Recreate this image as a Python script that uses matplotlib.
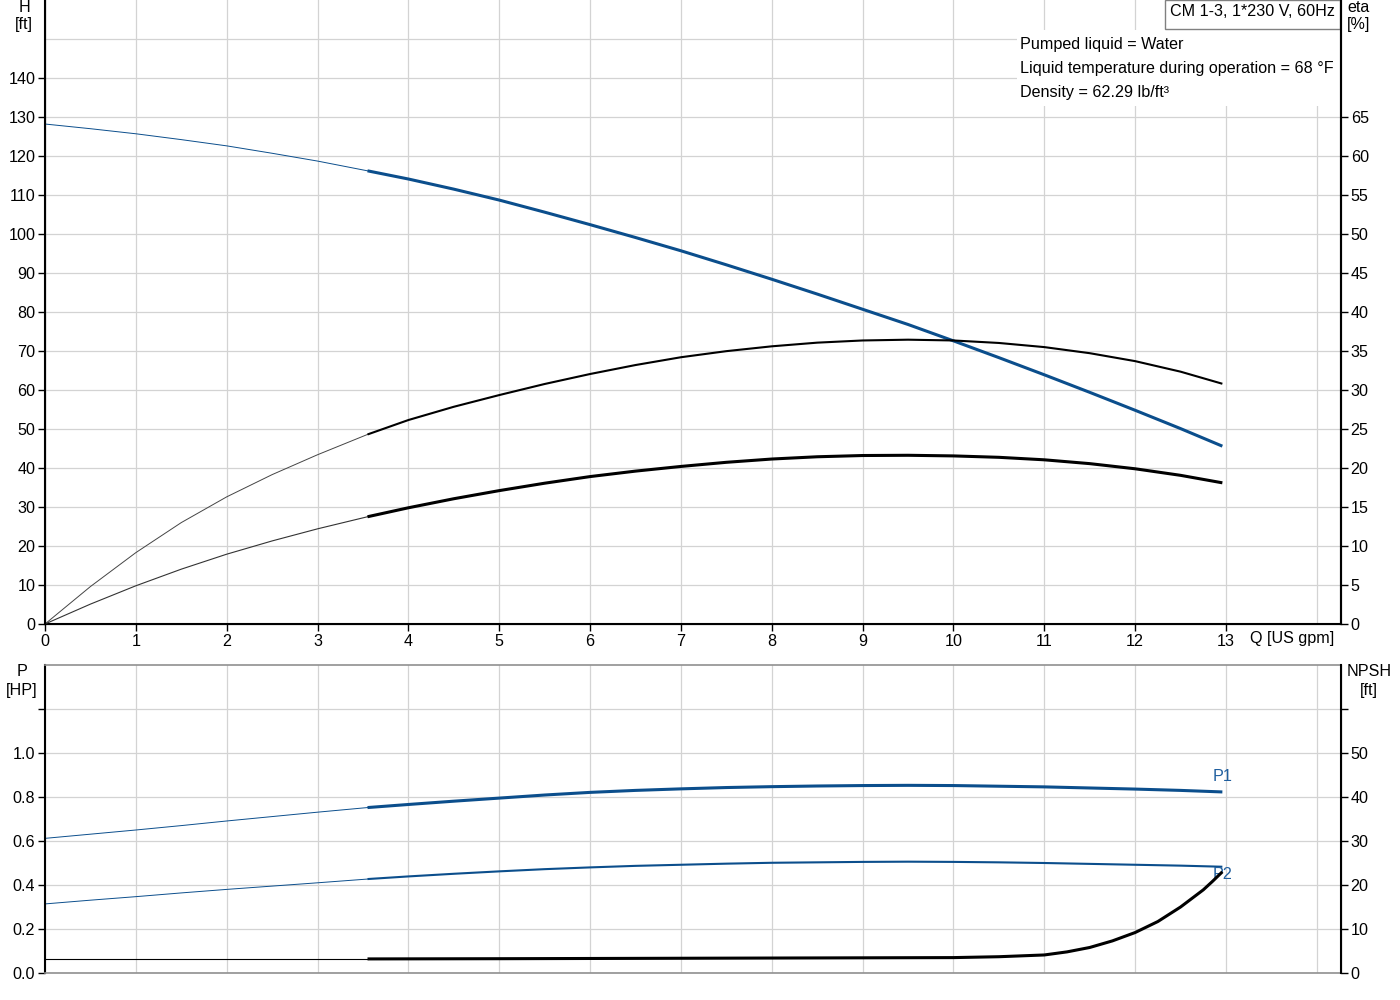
import matplotlib
matplotlib.use("Agg")
import matplotlib.pyplot as plt
from matplotlib.patches import Rectangle
from matplotlib.ticker import FixedLocator

plt.rcParams['font.family'] = ['Liberation Sans', 'DejaVu Sans']

# ---------------- data ----------------
q = [0, 0.5, 1, 1.5, 2, 2.5, 3, 3.55, 4, 4.5, 5, 5.5, 6, 6.5, 7, 7.5, 8, 8.5,
     9, 9.5, 10, 10.5, 11, 11.5, 12, 12.5, 12.96]
head_ft = [128.2, 127.0, 125.7, 124.2, 122.6, 120.7, 118.7, 116.2, 114.1, 111.5,
           108.7, 105.6, 102.4, 99.1, 95.7, 92.1, 88.4, 84.6, 80.7, 76.8, 72.6,
           68.3, 63.9, 59.4, 54.8, 50.1, 45.6]
eta_pump = [0, 4.8, 9.15, 13.0, 16.3, 19.15, 21.7, 24.3, 26.15, 27.85, 29.35,
            30.77, 32.05, 33.2, 34.2, 34.98, 35.6, 36.07, 36.35, 36.45, 36.35,
            36.03, 35.5, 34.72, 33.7, 32.35, 30.8]
eta_total = [0, 2.55, 4.9, 7.03, 8.95, 10.65, 12.2, 13.75, 14.9, 16.06, 17.1,
             18.05, 18.9, 19.6, 20.2, 20.73, 21.15, 21.44, 21.6, 21.63, 21.55,
             21.37, 21.05, 20.56, 19.9, 19.06, 18.1]
p1_hp = [0.612, 0.631, 0.650, 0.670, 0.691, 0.711, 0.731, 0.752, 0.766, 0.781,
         0.795, 0.809, 0.821, 0.830, 0.837, 0.843, 0.847, 0.850, 0.852, 0.853,
         0.852, 0.849, 0.846, 0.841, 0.836, 0.830, 0.823]
p2_hp = [0.314, 0.331, 0.347, 0.364, 0.380, 0.395, 0.410, 0.427, 0.439, 0.451,
         0.462, 0.472, 0.480, 0.487, 0.492, 0.497, 0.501, 0.503, 0.505, 0.506,
         0.505, 0.503, 0.500, 0.496, 0.492, 0.488, 0.483]
q_npsh = [0, 1, 2, 3, 3.55, 5, 6, 7, 8, 9, 10, 10.5, 11, 11.25, 11.5, 11.75, 12,
          12.25, 12.5, 12.75, 12.85, 12.96]
npsh_ft = [3.2, 3.2, 3.2, 3.2, 3.2, 3.25, 3.3, 3.35, 3.4, 3.45, 3.5, 3.7, 4.1,
           4.8, 5.8, 7.3, 9.2, 11.7, 15.0, 18.9, 20.8, 23.0]
q_start = 3.55  # start of the operating range (thick part)

x_ticks = list(range(0, 14))
h_ticks = list(range(0, 150, 10))
eta_ticks = list(range(0, 70, 5))
p_ticks = [0.0, 0.2, 0.4, 0.6, 0.8, 1.0]
npsh_ticks = [0, 10, 20, 30, 40, 50]

title_text = "CM 1-3, 1*230 V, 60Hz"
info_lines = ["Pumped liquid = Water",
              "Liquid temperature during operation = 68 °F",
              "Density = 62.29 lb/ft³"]

BLUE = '#0B4E8C'
LABEL_BLUE = '#1F5E9E'
BLACK = '#000000'
GRID = '#d3d3d3'
FS = 11.6

W, H = 1400, 1000
fig = plt.figure(figsize=(14, 10), dpi=100)
XMAX = (1341 - 45) / ((1226 - 45) / 13.0)


def fx(px):
    return px / W


def fy(py):
    return 1 - py / H


def split(xs, ys):
    thin_x, thin_y, thick_x, thick_y = [], [], [], []
    for a, b in zip(xs, ys):
        if a <= q_start:
            thin_x.append(a); thin_y.append(b)
        if a >= q_start:
            thick_x.append(a); thick_y.append(b)
    return thin_x, thin_y, thick_x, thick_y


def style_axis(ax, ymax):
    ax.set_xlim(0, XMAX)
    ax.set_ylim(0, ymax)
    ax.grid(True, which='both', color=GRID, lw=0.9)
    ax.set_axisbelow(True)
    ax.tick_params(which='major', direction='out', length=5, width=1,
                   labelsize=FS, colors=BLACK, pad=2)
    ax.tick_params(which='minor', length=0)


# ---------------- top chart ----------------
ax1 = fig.add_axes([fx(45), fy(624), (1341 - 45) / W, 624 / H])
style_axis(ax1, 160)
ax1.xaxis.set_major_locator(FixedLocator(x_ticks))
ax1.xaxis.set_minor_locator(FixedLocator([14]))
ax1.yaxis.set_major_locator(FixedLocator(h_ticks))
ax1.yaxis.set_minor_locator(FixedLocator([150]))
ax1.spines['top'].set_visible(False)
for s in ['left', 'bottom', 'right']:
    ax1.spines[s].set_color(BLACK)
    ax1.spines[s].set_linewidth(1.5)

ax1r = ax1.twinx()
ax1r.set_ylim(0, 80)
ax1r.yaxis.set_major_locator(FixedLocator(eta_ticks))
ax1r.tick_params(direction='out', length=5, width=1, labelsize=FS, pad=2)
ax1r.spines['top'].set_visible(False)
ax1r.spines['right'].set_linewidth(1.5)

tx, ty, kx, ky = split(q, head_ft)
ax1.plot(tx, ty, color=BLUE, lw=0.7, zorder=3)
ax1.plot(kx, ky, color=BLUE, lw=2.2, zorder=3, solid_capstyle='butt')
tx, ty, kx, ky = split(q, eta_pump)
ax1r.plot(tx, ty, color='#444444', lw=0.7)
ax1r.plot(kx, ky, color=BLACK, lw=1.5, solid_capstyle='butt')
tx, ty, kx, ky = split(q, eta_total)
ax1r.plot(tx, ty, color='#333333', lw=0.8)
ax1r.plot(kx, ky, color=BLACK, lw=2.2, solid_capstyle='butt')

# white panels behind legend texts
ax1.add_patch(Rectangle((fx(1017), fy(106)), fx(1340) - fx(1017), fy(30) - fy(106),
                        transform=fig.transFigure, facecolor='white',
                        edgecolor='none', zorder=1))
ax1.add_patch(Rectangle((fx(1165), fy(29)), fx(1340) - fx(1165), fy(0) - fy(29),
                        transform=fig.transFigure, facecolor='white',
                        edgecolor='#808080', lw=1.0, zorder=4, clip_on=False))
fig.text(fx(1252), fy(12), title_text, ha='center', va='center', fontsize=FS)
for i, line in enumerate(info_lines):
    fig.text(fx(1020), fy(44 + 24 * i), line, ha='left', va='center', fontsize=FS)

fig.text(fx(24), fy(7), "H", ha='center', va='center', fontsize=FS)
fig.text(fx(24), fy(25), "[ft]", ha='center', va='center', fontsize=FS)
fig.text(fx(1359), fy(7), "eta", ha='center', va='center', fontsize=FS)
fig.text(fx(1359), fy(25), "[%]", ha='center', va='center', fontsize=FS)
fig.text(fx(1292), fy(639), "Q [US gpm]", ha='center', va='center', fontsize=FS)

# ---------------- bottom chart ----------------
ax2 = fig.add_axes([fx(45), fy(973), (1341 - 45) / W, (973 - 665) / H])
style_axis(ax2, 1.4)
ax2.xaxis.set_major_locator(FixedLocator(list(range(0, 15))))
ax2.tick_params(axis='x', length=0, labelbottom=False)
ax2.yaxis.set_major_locator(FixedLocator(p_ticks + [1.2]))
ax2.set_yticklabels([f"{v:.1f}" for v in p_ticks] + [""])
for s in ['top', 'bottom']:
    ax2.spines[s].set_color('#909090')
    ax2.spines[s].set_linewidth(1.2)
ax2.spines['left'].set_color(BLACK)
ax2.spines['left'].set_linewidth(1.5)

ax2r = ax2.twinx()
ax2r.set_ylim(0, 70)
ax2r.yaxis.set_major_locator(FixedLocator(npsh_ticks + [60]))
ax2r.set_yticklabels([str(v) for v in npsh_ticks] + [""])
ax2r.tick_params(direction='out', length=5, width=1, labelsize=FS, pad=2)
ax2r.spines['right'].set_linewidth(1.5)
ax2r.spines['top'].set_visible(False)
ax2r.spines['bottom'].set_visible(False)
ax2r.spines['left'].set_visible(False)

tx, ty, kx, ky = split(q, p1_hp)
ax2.plot(tx, ty, color=BLUE, lw=0.7)
ax2.plot(kx, ky, color=BLUE, lw=2.2, solid_capstyle='butt')
tx, ty, kx, ky = split(q, p2_hp)
ax2.plot(tx, ty, color=BLUE, lw=0.7)
ax2.plot(kx, ky, color=BLUE, lw=1.5, solid_capstyle='butt')
tx, ty, kx, ky = split(q_npsh, npsh_ft)
ax2r.plot(tx, ty, color=BLACK, lw=0.8)
ax2r.plot(kx, ky, color=BLACK, lw=2.2, solid_capstyle='butt')

ax2.annotate("P1", (q[-1], p1_hp[-1]), xytext=(0, 10.8), textcoords='offset points',
             color=LABEL_BLUE, fontsize=FS, ha='center', va='center')
ax2.annotate("P2", (q[-1], p2_hp[-1]), xytext=(0, -5.8), textcoords='offset points',
             color=LABEL_BLUE, fontsize=FS, ha='center', va='center')
fig.text(fx(22), fy(672), "P", ha='center', va='center', fontsize=FS)
fig.text(fx(22), fy(690), "[HP]", ha='center', va='center', fontsize=FS)
fig.text(fx(1369), fy(672), "NPSH", ha='center', va='center', fontsize=FS)
fig.text(fx(1369), fy(690), "[ft]", ha='center', va='center', fontsize=FS)

fig.savefig("out.png", dpi=100, facecolor='white')
